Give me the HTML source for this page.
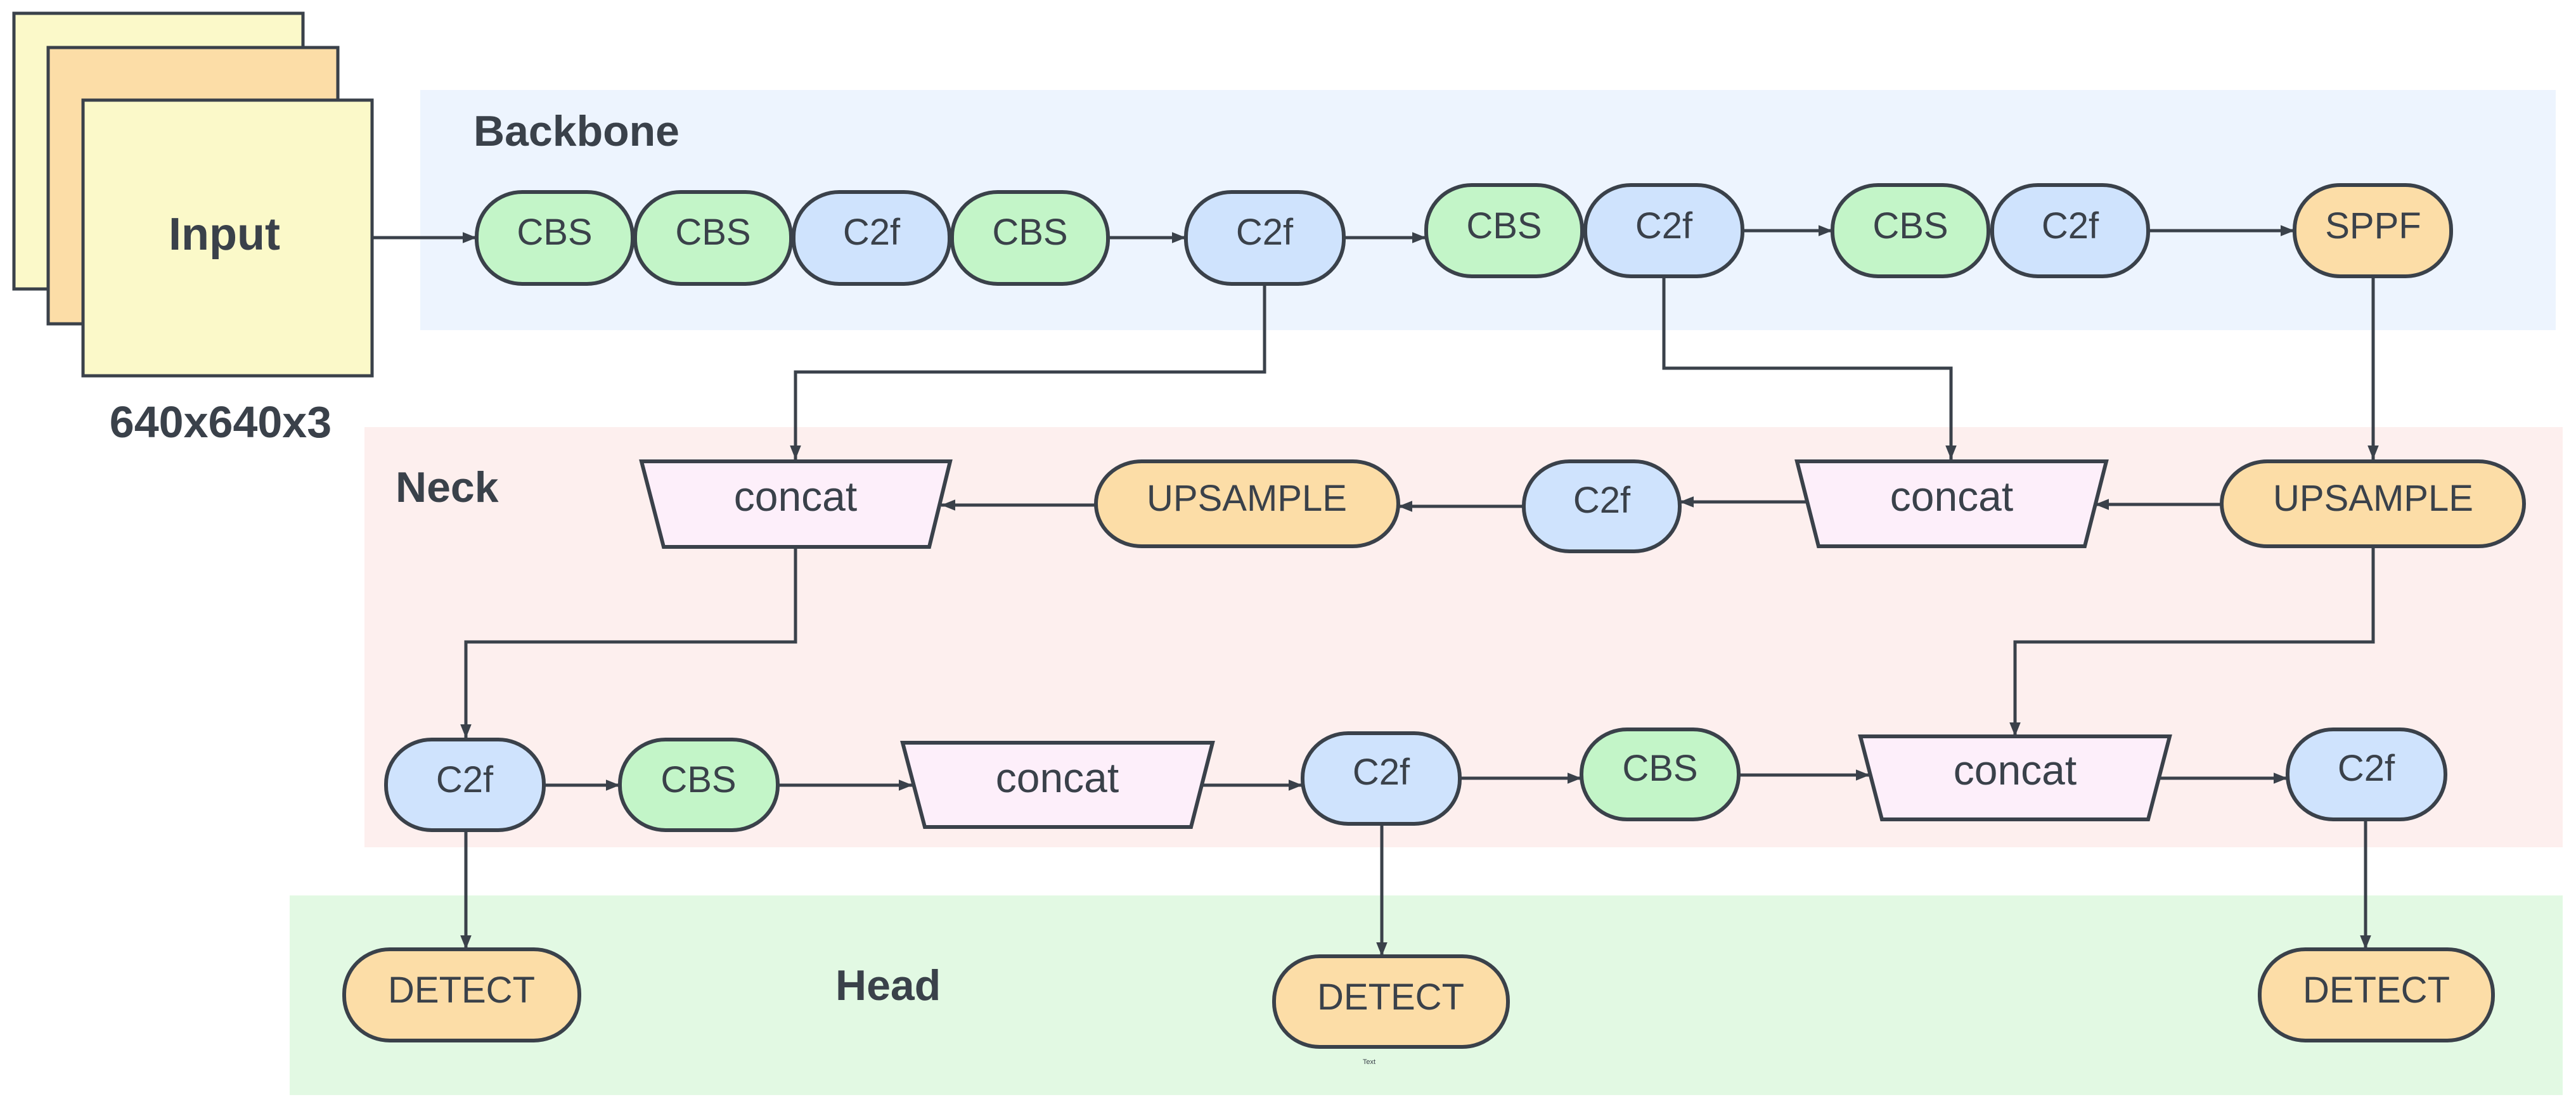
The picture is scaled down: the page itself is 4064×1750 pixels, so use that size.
<!DOCTYPE html>
<html><head><meta charset="utf-8"><style>
html,body{margin:0;padding:0;background:#fff;}
svg{display:block;}
text{font-family:"Liberation Sans",sans-serif;fill:#3a414a;}
</style></head><body>
<svg width="4064" height="1750" viewBox="0 0 4064 1750" xmlns="http://www.w3.org/2000/svg">
<defs>
<marker id="ar" viewBox="0 0 10 10" refX="10" refY="5" markerWidth="22" markerHeight="22" markerUnits="userSpaceOnUse" orient="auto"><path d="M0,1 L10,5 L0,9 Z" fill="#3a414a"/></marker>
</defs>
<rect x="663" y="142" width="3369" height="379" fill="#edf4fe"/>
<rect x="575" y="674" width="3468" height="663" fill="#fdefee"/>
<rect x="457" y="1413" width="3586" height="315" fill="#e2f9e3"/>
<text x="747" y="230" font-size="68" font-weight="bold">Backbone</text>
<text x="624" y="792" font-size="68" font-weight="bold">Neck</text>
<text x="1318" y="1578" font-size="68" font-weight="bold">Head</text>
<g stroke="#3a414a" stroke-width="5">
<rect x="22" y="21" width="456" height="435" fill="#fbf9c9"/>
<rect x="76" y="75" width="457" height="436" fill="#fcdda7"/>
<rect x="131" y="158" width="456" height="435" fill="#fbf9c9"/>
</g>
<text x="354" y="394" font-size="72" font-weight="bold" text-anchor="middle">Input</text>
<text x="348" y="690" font-size="70" font-weight="bold" text-anchor="middle">640x640x3</text>
<g stroke="#3a414a" stroke-width="5" fill="none" marker-end="url(#ar)">
<path d="M587 375 H752"/>
<path d="M1748 375 H1871"/>
<path d="M2120 375 H2250"/>
<path d="M2749 364 H2891"/>
<path d="M3389 364 H3620"/>
<path d="M1995 448 V587 H1255 V725"/>
<path d="M2625 436 V581 H3078 V725"/>
<path d="M3744 436 V725"/>
<path d="M3505 796 H3305"/>
<path d="M2851 792 H2650"/>
<path d="M2404 799 H2206"/>
<path d="M1729 797 H1485"/>
<path d="M1255 863 V1013 H735 V1165"/>
<path d="M3744 862 V1013 H3179 V1162"/>
<path d="M858 1239 H978"/>
<path d="M1227 1239 H1440"/>
<path d="M1895 1239 H2055"/>
<path d="M2303 1228 H2495"/>
<path d="M2743 1223 H2950"/>
<path d="M3405 1228 H3609"/>
<path d="M735 1310 V1498"/>
<path d="M2180 1300 V1509"/>
<path d="M3732 1293 V1498"/>
</g>
<g stroke="#3a414a" stroke-width="6">
<rect x="752" y="303" width="246" height="145" rx="72" ry="70" fill="#c3f5c8"/>
<rect x="1002" y="303" width="246" height="145" rx="72" ry="70" fill="#c3f5c8"/>
<rect x="1252" y="303" width="246" height="145" rx="72" ry="70" fill="#cfe3fd"/>
<rect x="1502" y="303" width="246" height="145" rx="72" ry="70" fill="#c3f5c8"/>
<rect x="1871" y="303" width="249" height="145" rx="72" ry="70" fill="#cfe3fd"/>
<rect x="2250" y="292" width="246" height="144" rx="72" ry="70" fill="#c3f5c8"/>
<rect x="2501" y="292" width="248" height="144" rx="72" ry="70" fill="#cfe3fd"/>
<rect x="2891" y="292" width="246" height="144" rx="72" ry="70" fill="#c3f5c8"/>
<rect x="3143" y="292" width="246" height="144" rx="72" ry="70" fill="#cfe3fd"/>
<rect x="3620" y="292" width="247" height="144" rx="72" ry="70" fill="#fcdda7"/>
<polygon points="1012,728 1499,728 1466,863 1047,863" fill="#fdeffa"/>
<rect x="1729" y="728" width="477" height="134" rx="72" ry="67" fill="#fcdda7"/>
<rect x="2404" y="728" width="246" height="142" rx="72" ry="70" fill="#cfe3fd"/>
<polygon points="2835,728 3323,728 3289,862 2869,862" fill="#fdeffa"/>
<rect x="3505" y="728" width="477" height="134" rx="72" ry="67" fill="#fcdda7"/>
<rect x="609" y="1167" width="249" height="143" rx="72" ry="70" fill="#cfe3fd"/>
<rect x="978" y="1167" width="249" height="143" rx="72" ry="70" fill="#c3f5c8"/>
<polygon points="1424,1172 1913,1172 1879,1305 1459,1305" fill="#fdeffa"/>
<rect x="2055" y="1157" width="248" height="143" rx="72" ry="70" fill="#cfe3fd"/>
<rect x="2495" y="1151" width="248" height="142" rx="72" ry="70" fill="#c3f5c8"/>
<polygon points="2935,1162 3423,1162 3389,1293 2969,1293" fill="#fdeffa"/>
<rect x="3609" y="1151" width="249" height="142" rx="72" ry="70" fill="#cfe3fd"/>
<rect x="543" y="1498" width="371" height="144" rx="72" ry="70" fill="#fcdda7"/>
<rect x="2010" y="1509" width="369" height="143" rx="72" ry="70" fill="#fcdda7"/>
<rect x="3565" y="1498" width="368" height="144" rx="72" ry="70" fill="#fcdda7"/>
</g>
<g font-size="58" text-anchor="middle">
<text x="875" y="386">CBS</text>
<text x="1125" y="386">CBS</text>
<text x="1375" y="386">C2f</text>
<text x="1625" y="386">CBS</text>
<text x="1995" y="386">C2f</text>
<text x="2373" y="376">CBS</text>
<text x="2625" y="376">C2f</text>
<text x="3014" y="376">CBS</text>
<text x="3266" y="376">C2f</text>
<text x="3744" y="376">SPPF</text>
<text x="1255" y="806" font-size="66">concat</text>
<text x="1967" y="806">UPSAMPLE</text>
<text x="2527" y="809">C2f</text>
<text x="3079" y="806" font-size="66">concat</text>
<text x="3744" y="806">UPSAMPLE</text>
<text x="733" y="1250">C2f</text>
<text x="1102" y="1250">CBS</text>
<text x="1668" y="1250" font-size="66">concat</text>
<text x="2179" y="1238">C2f</text>
<text x="2619" y="1232">CBS</text>
<text x="3179" y="1238" font-size="66">concat</text>
<text x="3733" y="1232">C2f</text>
<text x="728" y="1582">DETECT</text>
<text x="2194" y="1593">DETECT</text>
<text x="3749" y="1582">DETECT</text>
</g>
<text x="2160" y="1679" font-size="11" text-anchor="middle">Text</text>
</svg>
</body></html>
